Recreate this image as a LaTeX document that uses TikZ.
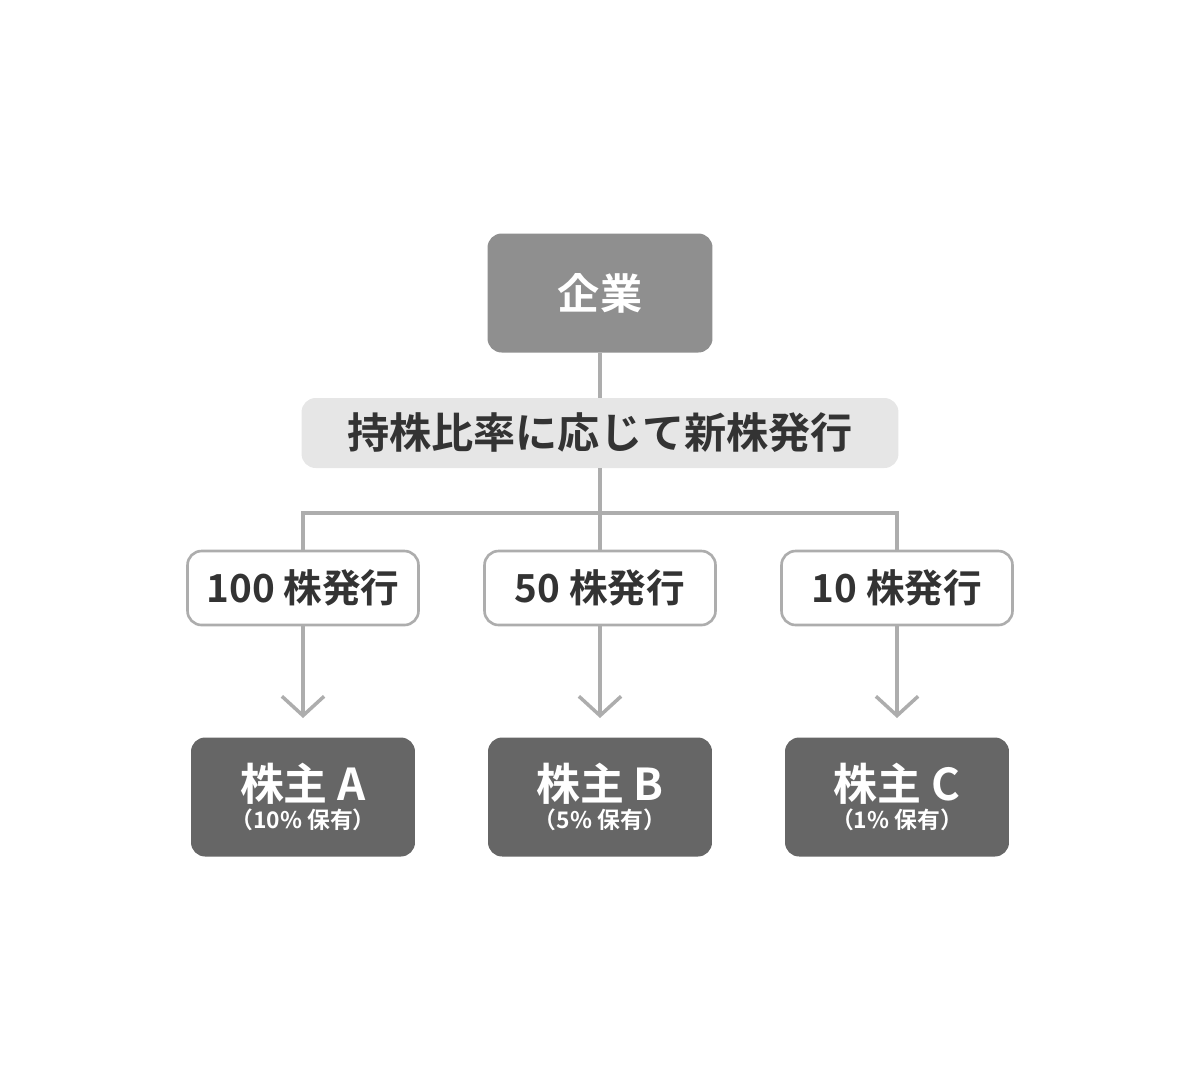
\documentclass[tikz,border=0pt]{standalone}
\usepackage{fontspec}
\setmainfont{Noto Sans CJK JP}[BoldFont={Noto Sans CJK JP Bold}]
\usetikzlibrary{arrows.meta}
\definecolor{corpgray}{HTML}{8F8F8F}
\definecolor{holdgray}{HTML}{666666}
\definecolor{notegray}{HTML}{E6E6E6}
\definecolor{linegray}{HTML}{ADADAD}
\definecolor{textdark}{HTML}{333333}
\tikzset{
 corpbox/.style={fill=corpgray, rounded corners=8pt, minimum width=4.5cm, minimum height=2.38cm, text=white, font=\bfseries\fontsize{24}{28}\selectfont},
 notebox/.style={fill=notegray, rounded corners=8pt, minimum width=11.94cm, minimum height=1.4cm, text=textdark, font=\bfseries\fontsize{24}{28}\selectfont},
 issuebox/.style={draw=linegray, line width=1.5pt, fill=white, rounded corners=8pt, minimum width=4.62cm, minimum height=1.48cm, text=textdark, font=\bfseries\fontsize{22}{26}\selectfont},
 holdbox/.style={fill=holdgray, rounded corners=8pt, minimum width=4.48cm, minimum height=2.38cm, text=white, align=center},
 link/.style={draw=linegray, line width=2pt},
}
\begin{document}
\begin{tikzpicture}[x=0.02cm, y=-0.02cm]
\useasboundingbox (0,0) rectangle (1200,1090);
\node[corpbox] (corp) at (600,293) {企業};
\node[notebox] (note) at (600,433) {持株比率に応じて新株発行};
\coordinate (J) at (600,513);
\coordinate (JA) at (303,513);
\coordinate (JC) at (897,513);
\node[issuebox] (iA) at (303,588) {100 株発行};
\node[issuebox] (iB) at (600,588) {50 株発行};
\node[issuebox] (iC) at (897,588) {10 株発行};
\foreach \n/\x/\t/\p in {A/303/A/10,B/600/B/5,C/897/C/1}{
 \node[holdbox] (h\n) at (\x,797) {{\bfseries\fontsize{25}{28}\selectfont 株主 \t}\\[2pt]{\bfseries\fontsize{13}{15}\selectfont （\p\% 保有）}};
 \coordinate (t\n) at (\x,718);
 \draw[link, -{Straight Barb[length=11pt, width=24pt, line width=2pt]}] (i\n) -- (t\n);
}
\draw[link] (corp) -- (note);
\draw[link] (note) -- (J);
\draw[link] (iA) -- (JA) -- (JC) -- (iC);
\draw[link] (J) -- (iB);
\end{tikzpicture}
\end{document}
